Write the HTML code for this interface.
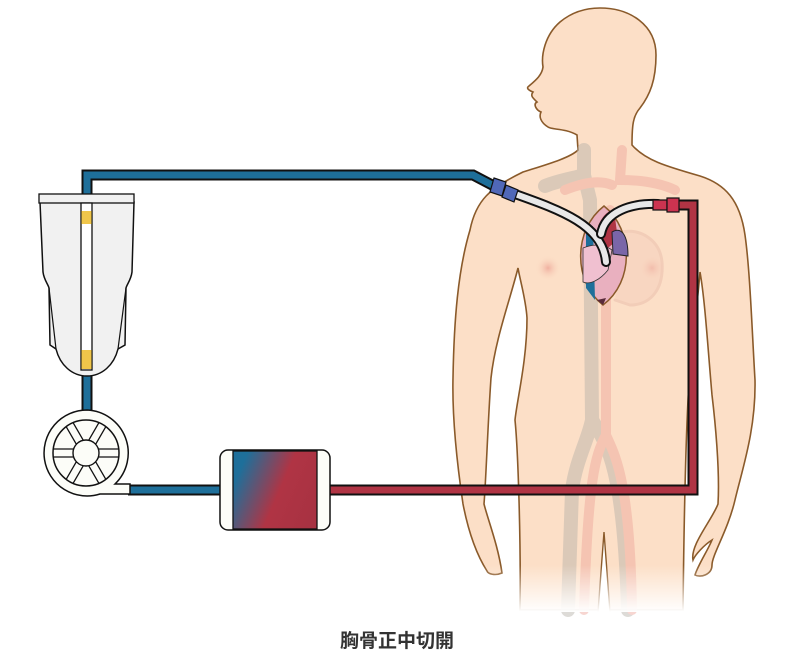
<!DOCTYPE html>
<html><head><meta charset="utf-8"><style>
html,body{margin:0;padding:0;background:#fff;width:794px;height:661px;overflow:hidden}
svg{display:block}
</style></head><body>
<svg width="794" height="661" viewBox="0 0 794 661" xmlns="http://www.w3.org/2000/svg">
<defs>
<linearGradient id="fade" x1="0" y1="0" x2="0" y2="1">
<stop offset="0" stop-color="#fff" stop-opacity="0"/><stop offset="1" stop-color="#fff" stop-opacity="1"/>
</linearGradient>
<linearGradient id="oxy" x1="0" y1="0.3" x2="1" y2="0.7">
<stop offset="0.05" stop-color="#1e6f9a"/><stop offset="0.55" stop-color="#b03444"/><stop offset="1" stop-color="#a83242"/>
</linearGradient>
<radialGradient id="nip"><stop offset="0" stop-color="#f0b0a0"/><stop offset="1" stop-color="#fcdfc7" stop-opacity="0"/></radialGradient>
</defs>

<path d="M600,8 C630,8 656,25 656,55 C656,80 650,95 640,108 C633,116 632,125 632,145 C645,160 665,166 700,176 C725,184 740,200 745,235 C750,270 752,330 755,380 C756,430 742,470 735,500 C728,530 712,555 712,565 C712,575 700,578 695,575 C698,565 708,550 712,540 C704,545 695,555 693,560 C690,545 712,520 718,504 C720,470 715,420 712,395 C708,350 705,300 700,272 C698,300 690,360 688,400 C686,440 684,520 683,610 L520,610 C521,540 518,450 515,420 C517,400 527,360 527,318 C526,300 520,280 518,268 C510,300 495,340 491,378 C488,420 486,480 484,504 C488,520 498,545 502,573 C495,576 488,574 487,571 C480,560 470,540 463,504 C458,470 452,420 453,378 C454,320 458,270 470,230 C476,200 490,188 523,172 C545,165 570,158 578,150 L577,135 C565,128 552,130 548,127 C540,122 539,116 541,112 C536,110 533,104 537,102 C533,98 530,96 533,92 C528,90 526,88 529,86 C536,80 542,75 543,67 C541,55 545,35 560,22 C572,12 585,8 600,8 Z" fill="#fcdfc7" stroke="#8a5a2a" stroke-width="1.6"/>
<path d="M604,535 L598,612 L610,612 Z" fill="#fff"/>
<path d="M604,532 L598,612 M604,532 L610,612" stroke="#8a5a2a" stroke-width="1.4" fill="none"/>
<circle cx="548" cy="268" r="13" fill="url(#nip)"/>
<circle cx="652" cy="268" r="13" fill="url(#nip)"/>

<g opacity="0.45" fill="none" stroke-linecap="round">
<path d="M584,150 L584,175 C575,178 560,180 545,186 M584,175 L590,200 L592,420 C588,440 576,460 572,490 L568,610 M592,420 C608,445 624,470 628,610" stroke="#b5b0a8" stroke-width="14"/>
<path d="M622,150 L620,180 C640,180 660,183 675,190 M612,185 C600,180 585,182 565,190 M610,210 L606,300 L606,435 C595,455 588,480 584,610 M606,435 C615,455 630,480 632,610" stroke="#eea59a" stroke-width="10"/>
<path d="M622,232 C640,228 660,240 662,262 C664,290 650,305 630,305 L615,300" stroke="#e8b8a8" stroke-width="3" fill="#f5cdbb"/>
</g>

<path d="M604,206 C634,230 634,282 603,305 C573,282 573,230 604,206 Z" fill="#e9b0bf" stroke="#8a5a2a" stroke-width="1.5"/>
<path d="M586,230 L593,226 L595,300 L586,288 Z" fill="#1e6f9a"/>
<path d="M598,226 C603,214 610,210 614,210 L618,240 L605,250 Z" fill="#b03444"/>
<path d="M612,232 C622,226 628,236 628,256 L613,254 Z" fill="#7a66a8" stroke="#222" stroke-width="1"/>
<path d="M597,300 L606,298 L603,305 Z" fill="#5a2a3a"/>
<path d="M583,248 C595,243 605,245 612,250 L608,270 C600,280 590,285 583,282 Z" fill="#f0c0d0" stroke="#333" stroke-width="0.8"/>

<g stroke-linejoin="miter">
<path d="M87,194 L87,175 L473,175 L494,186" fill="none" stroke="#111" stroke-width="11"/>
<path d="M87,194 L87,175 L473,175 L494,186" fill="none" stroke="#1e6f9a" stroke-width="7"/>
<path d="M87,372 L87,412" fill="none" stroke="#111" stroke-width="11"/>
<path d="M87,372 L87,412" fill="none" stroke="#1e6f9a" stroke-width="7"/>
<path d="M128,490 L222,490" fill="none" stroke="#111" stroke-width="11"/>
<path d="M128,490 L222,490" fill="none" stroke="#1e6f9a" stroke-width="7"/>
<path d="M328,490 L693,490 L693,205 L678,205" fill="none" stroke="#111" stroke-width="11"/>
<path d="M328,490 L693,490 L693,205 L678,205" fill="none" stroke="#b03444" stroke-width="7"/>
<path d="M515,194 C560,210 603,225 606,262" fill="none" stroke="#111" stroke-width="10" stroke-linecap="round"/>
<path d="M515,194 C560,210 603,225 606,262" fill="none" stroke="#e8e8e8" stroke-width="6" stroke-linecap="round"/>
<path d="M658,204 C630,203 605,212 601,234" fill="none" stroke="#111" stroke-width="10" stroke-linecap="round"/>
<path d="M658,204 C630,203 605,212 601,234" fill="none" stroke="#e8e8e8" stroke-width="6" stroke-linecap="round"/>
<path d="M494,178 L506,182 L502,196 L490,192 Z" fill="#5068b8" stroke="#111" stroke-width="1.2"/>
<path d="M506,185 L518,190 L514,202 L502,197 Z" fill="#5068b8" stroke="#111" stroke-width="1.2"/>
<rect x="653" y="200" width="14" height="10" fill="#cc3350" stroke="#111" stroke-width="1.2"/>
<rect x="667" y="198" width="12" height="14" fill="#cc3350" stroke="#111" stroke-width="1.2"/>
</g>

<path d="M40,202 L43,272 C44,280 48,284 49,288 L50,345 L56,349 C60,365 72,376 87,376 C102,376 114,365 118,349 L125,345 L126,288 C127,284 131,280 132,272 L134,202 Z" fill="#f1f1f1" stroke="#111" stroke-width="1.5"/>
<path d="M49,288 L56,349 M126,288 L118,349" stroke="#111" stroke-width="1.2" fill="none"/>
<rect x="39" y="194" width="95" height="9" fill="#f1f1f1" stroke="#111" stroke-width="1.3"/>
<rect x="81" y="203" width="11" height="167" fill="#fff" stroke="#111" stroke-width="1.3"/>
<rect x="81.5" y="211" width="10" height="13" fill="#f0c64a"/>
<rect x="81.5" y="350" width="10" height="19" fill="#f0c64a"/>

<path d="M87,410 A43,43 0 1,0 100,494 L130,494 L130,484 L115,484 A43,43 0 0,0 87,410 Z" fill="#fcfdf8" stroke="#111" stroke-width="1.5"/>
<circle cx="86" cy="453" r="33" fill="#fcfdf8" stroke="#111" stroke-width="1.5"/>
<g stroke="#111" stroke-width="1.3" transform="translate(86,453)">
<g id="sp"><line x1="10" y1="-4" x2="33" y2="-4"/><line x1="10" y1="4" x2="33" y2="4"/></g>
<use href="#sp" transform="rotate(60)"/><use href="#sp" transform="rotate(120)"/>
<use href="#sp" transform="rotate(180)"/><use href="#sp" transform="rotate(240)"/><use href="#sp" transform="rotate(300)"/>
</g>
<circle cx="86" cy="453" r="13" fill="#fcfdf8" stroke="#111" stroke-width="1.4"/>

<rect x="220" y="450" width="110" height="80" rx="8" fill="#fcfdf8" stroke="#111" stroke-width="1.5"/>
<rect x="233" y="451" width="84" height="78" fill="url(#oxy)" stroke="#111" stroke-width="1.3"/>

<rect x="440" y="565" width="330" height="47" fill="url(#fade)"/>

<text x="397" y="647" text-anchor="middle" font-family="Liberation Sans, Noto Sans CJK JP, sans-serif" font-size="19" font-weight="bold" fill="#333">胸骨正中切開</text>
</svg>
</body></html>
